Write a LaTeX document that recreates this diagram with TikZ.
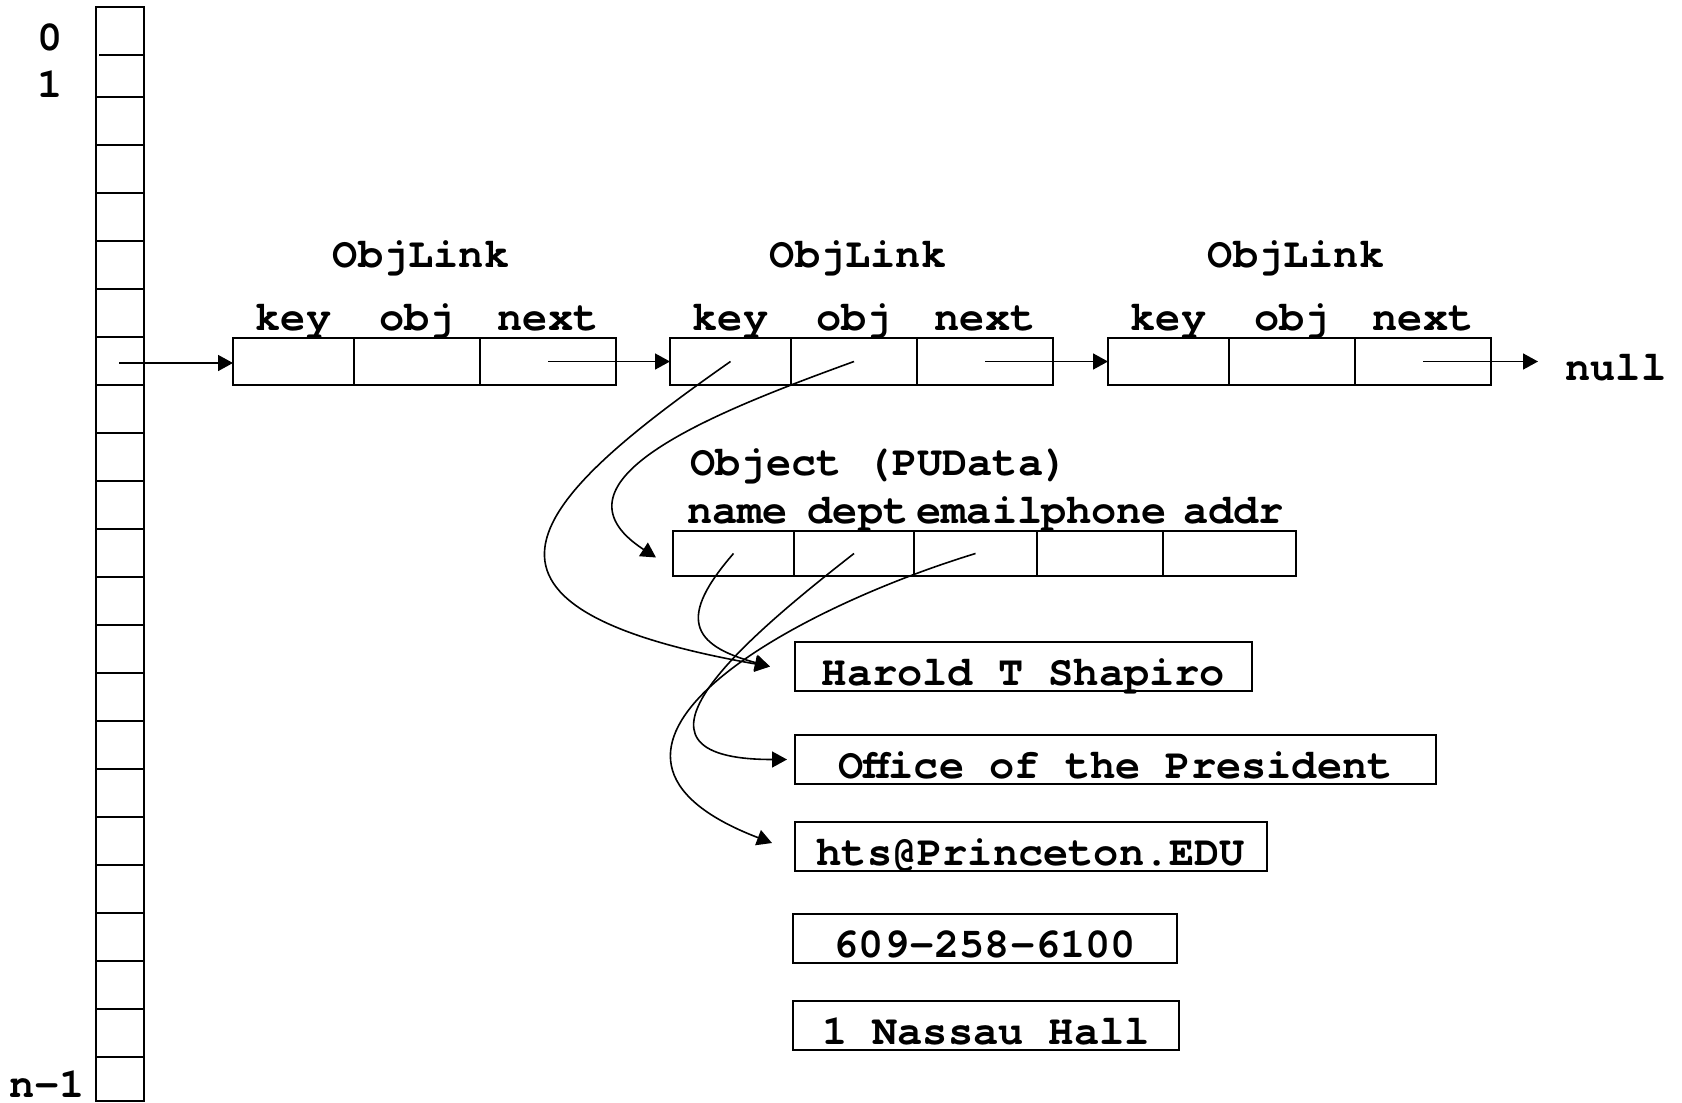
\documentclass[tikz,border=0pt]{standalone}
\usepackage{fontspec}
\setmonofont{texgyrecursor}[Extension=.otf, UprightFont=*-regular, BoldFont=*-bold]
\usetikzlibrary{arrows.meta}
\usetikzlibrary{positioning}

\tikzset{
  cell/.style={draw, line width=0.9pt, minimum height=23.5pt, inner sep=0pt, outer sep=0pt},
  objcell/.style={cell, minimum height=22.5pt},
  lbl/.style={anchor=base, inner sep=0pt},
  valbox/.style={draw, line width=0.9pt, inner xsep=0pt, inner ysep=0pt,
    text height=21.5pt, text depth=3pt, anchor=base west},
  ptr/.style={line width=0.8pt, -{Triangle[length=7.5pt,width=8pt]}},
}

\begin{document}
\begin{tikzpicture}[x=0.5pt, y=0.5pt, font=\ttfamily\bfseries\fontsize{21}{25}\selectfont]
    \useasboundingbox (0,0) rectangle (1682,-1103);

    % the array of slots
    \draw [line width=1.2pt] (96,-7) rectangle (144,-1101);
    \draw [line width=0.8pt] (99,-55) -- (144,-55);
    \foreach \y in {97,145,...,1057}
      \draw [line width=0.8pt] (97,-\y) -- (144,-\y);
    \node [lbl] (i0) at (50,-50) {0};
    \node [lbl] (i1) at (50,-97) {1};
    \node [lbl] (ilast) at (47,-1097) {n-1};
    \coordinate (slot) at (119,-363);

    % the three ObjLink boxes
    \foreach \b/\x in {1/233, 2/670, 3/1108} {
      \node [cell, minimum width=60.5pt, anchor=west] (k\b) at (\x,-361.5) {};
      \node [cell, minimum width=63pt, right=0pt of k\b] (o\b) {};
      \node [cell, minimum width=68pt, right=0pt of o\b] (n\b) {};
      \node [lbl] at ([yshift=4pt]k\b.north) {key};
      \node [lbl] at ([yshift=4pt]o\b.north) {obj};
      \node [lbl] at ([yshift=4pt]n\b.north) {next};
      \node [lbl] at ([xshift=2pt,yshift=35.5pt]o\b.north) {ObjLink};
    }
    \node [lbl, anchor=base west] (null) at (1565,-380) {null};

    % the object and its fields
    \node [lbl, anchor=base west] (objtitle) at (690,-475) {Object (PUData)};
    \node [objcell, minimum width=60.5pt, anchor=west] (cName) at (673,-553.5) {};
    \node [objcell, minimum width=60pt, right=0pt of cName] (cDept) {};
    \node [objcell, minimum width=61.5pt, right=0pt of cDept] (cEmail) {};
    \node [objcell, minimum width=63pt, right=0pt of cEmail] (cPhone) {};
    \node [objcell, minimum width=66.5pt, right=0pt of cPhone] (cAddr) {};
    \node [lbl] at ([xshift=2pt,yshift=4pt]cName.north) {name};
    \node [lbl] at ([xshift=2pt,yshift=4pt]cDept.north) {dept};
    \node [lbl] at ([xshift=2pt,yshift=4pt]cEmail.north) {email};
    \node [lbl] at ([xshift=2pt,yshift=4pt]cPhone.north) {phone};
    \node [lbl] at ([xshift=2pt,yshift=4pt]cAddr.north) {addr};

    % the strings
    \node [valbox, minimum width=228.5pt] (vName) at (794,-685) {Harold T Shapiro};
    \node [valbox, minimum width=320.5pt] (vDept) at (794,-778) {Office of the President};
    \node [valbox, minimum width=236pt] (vEmail) at (794,-865) {hts@Princeton.EDU};
    \node [valbox, minimum width=192pt] (vPhone) at (792,-957) {609-258-6100};
    \node [valbox, minimum width=193pt] (vAddr) at (792,-1044) {1 Nassau Hall};

    % links
    \draw [ptr] (slot) -- (slot -| k1.west);
    \draw [ptr] (n1.center) -- (k2.west);
    \draw [ptr] (n2.center) -- (k3.west);
    \draw [ptr, shorten >=13.5pt] (n3.center) -- (n3.center -| null.west);

    \draw [ptr] (k2.center) to [out=215, in=170, out looseness=2.0, in looseness=2.9] ([xshift=-12pt]vName.west);
    \draw [ptr] (o2.center) to [out=200, in=147, looseness=1.3] ([xshift=-8.5pt,yshift=-2pt]cName.west);
    \draw [ptr] (cName.center) to [out=229, in=165, looseness=1.8] ([xshift=-12pt]vName.west);
    \draw [ptr] (cDept.center) to [out=218, in=180, out looseness=1.6, in looseness=2.2] ([xshift=-3.5pt]vDept.west);
    \draw [ptr] (cEmail.center) to [out=197, in=159, out looseness=1.46, in looseness=1.83] ([xshift=-11pt,yshift=1.75pt]vEmail.west);
  \end{tikzpicture}
\end{document}
